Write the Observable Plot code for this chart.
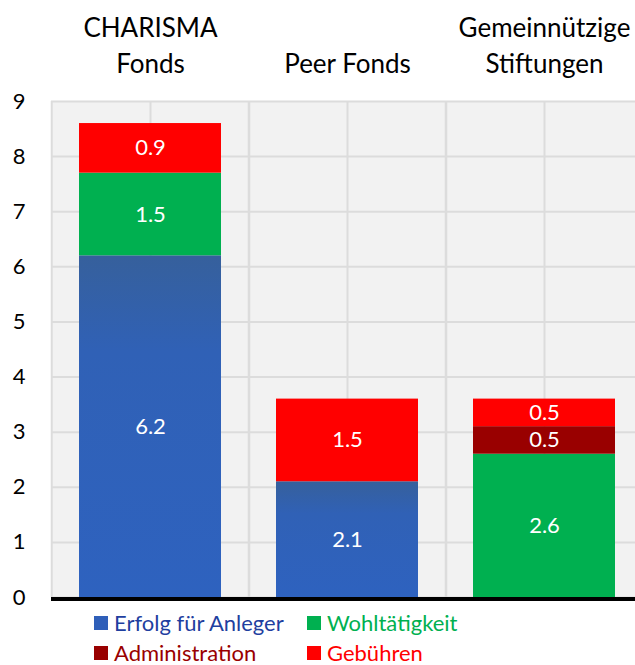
<!DOCTYPE html>
<html><head><meta charset="utf-8">
<script src="https://cdn.jsdelivr.net/npm/d3@7"></script>
<script src="https://cdn.jsdelivr.net/npm/@observablehq/plot@0.6"></script>
<style>
body{margin:0;background:#fff;font-family:Lato,"Noto Sans",sans-serif;width:635px;height:665px;overflow:hidden}
#chart svg{display:block;overflow:visible}
#legend{display:grid;grid-template-columns:213px 240px;padding-left:94px;padding-top:5px;font-size:22px;line-height:30px}
#legend .item{display:flex;align-items:center;white-space:nowrap}
#legend .sw{width:14px;height:14px;margin-right:6px;flex:none}
</style></head><body><div id="chart"></div><div id="legend"></div>
<script>
const categories = ["CHARISMA\nFonds", "Peer Fonds", "Gemeinnützige\nStiftungen"];
const seriesNames = ["Erfolg für Anleger", "Wohltätigkeit", "Administration", "Gebühren"];
const seriesFills = ["url(#blueGrad)", "#00B050", "#990000", "#FF0000"];
const swatchColors = ["#2F5FB9", "#00B050", "#990000", "#FF0000"];
const legendTextColors = ["#1F3F9F", "#00B050", "#990000", "#FF0000"];
const erfolg = [6.2, 2.1, 0];
const wohltaetigkeit = [1.5, 0, 2.6];
const administration = [0, 0, 0.5];
const gebuehren = [0.9, 1.5, 0.5];
const yTicks = [0, 1, 2, 3, 4, 5, 6, 7, 8, 9];

const seriesValues = [erfolg, wohltaetigkeit, administration, gebuehren];
const data = [];
seriesNames.forEach((s, si) => {
  categories.forEach((c, ci) => {
    const v = seriesValues[si][ci];
    if (v > 0) data.push({cat: c, series: s, value: v});
  });
});

const xRange = [51, 643.5];
const step = (xRange[1] - xRange[0]) / categories.length;
const gridColor = "#dcdcdc";

const chart = Plot.plot({
  width: 635,
  height: 603,
  marginTop: 101,
  marginBottom: 6,
  marginLeft: 51,
  marginRight: 0,
  style: {fontFamily: "Lato, 'Noto Sans', sans-serif", fontSize: "22px", overflow: "visible", background: "transparent", color: "#000"},
  x: {domain: categories, range: xRange, paddingInner: 0.28, paddingOuter: 0.14, axis: null},
  y: {domain: [0, 9], ticks: yTicks, label: null},
  color: {domain: seriesNames, range: seriesFills},
  marks: [
    Plot.frame({fill: "#f2f2f2", stroke: null}),
    Plot.gridY(yTicks, {stroke: gridColor, strokeOpacity: 1, strokeWidth: 2}),
    Plot.ruleX(categories, {stroke: gridColor, strokeWidth: 2, dx: -step / 2}),
    Plot.ruleX(categories, {stroke: gridColor, strokeWidth: 2}),
    Plot.ruleX(categories, {stroke: gridColor, strokeWidth: 2, dx: step / 2}),
    Plot.axisY(yTicks, {tickSize: 0, tickPadding: 26, fontSize: 22, fill: "#000", tickFormat: d => String(d)}),
    Plot.barY(data, {x: "cat", y: "value", fill: "series", order: seriesNames}),
    Plot.text(data, Plot.stackY({x: "cat", y: "value", z: "series", order: seriesNames, text: d => d.value.toFixed(1), fill: "white", fontSize: 22})),
    Plot.ruleY([0], {stroke: "#000", strokeWidth: 4, dy: 1.5}),
    Plot.text(categories, {x: d => d, text: d => d, frameAnchor: "top", lineAnchor: "bottom", dy: -29, fontSize: 26, lineHeight: 1.385, fill: "#000"})
  ]
});

const ns = "http://www.w3.org/2000/svg";
const defs = document.createElementNS(ns, "defs");
defs.innerHTML = '<linearGradient id="blueGrad" x1="0" y1="0" x2="0" y2="1">' +
  '<stop offset="0" stop-color="#36609C"/><stop offset="0.28" stop-color="#3061B6"/><stop offset="1" stop-color="#2E62BF"/></linearGradient>';
chart.insertBefore(defs, chart.firstChild);
document.getElementById("chart").appendChild(chart);

const legend = document.getElementById("legend");
[0, 1, 2, 3].forEach(i => {
  const it = document.createElement("div");
  it.className = "item";
  it.innerHTML = `<span class="sw" style="background:${swatchColors[i]}"></span><span style="color:${legendTextColors[i]}">${seriesNames[i]}</span>`;
  legend.appendChild(it);
});
</script></body></html>
